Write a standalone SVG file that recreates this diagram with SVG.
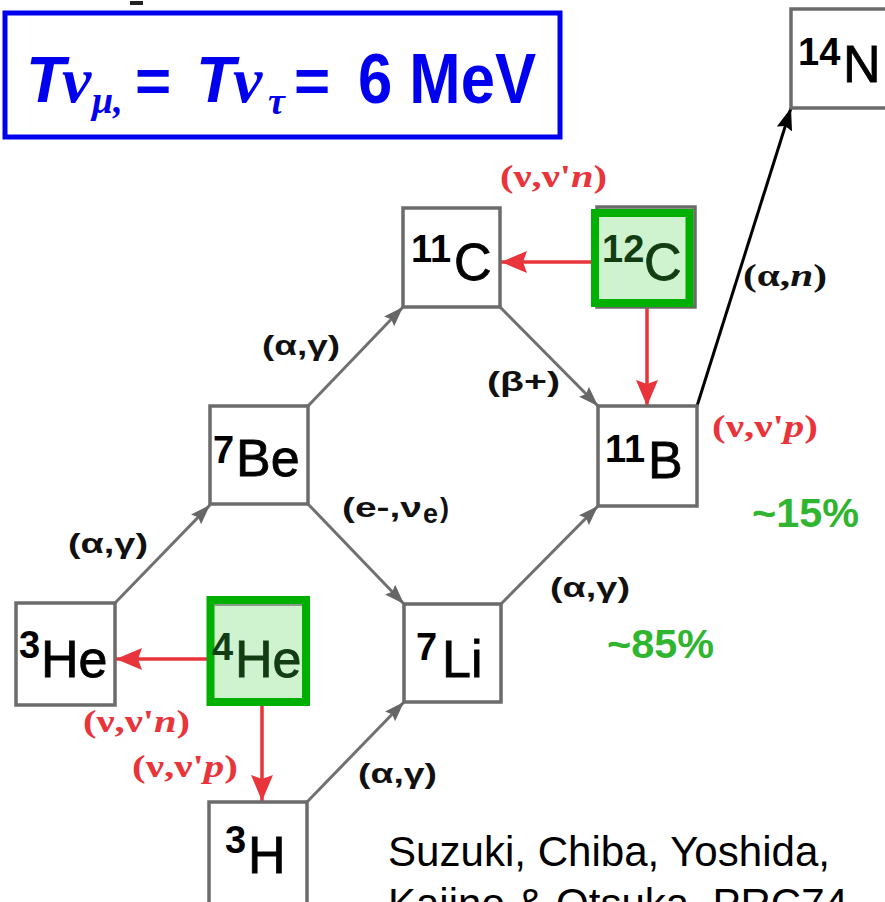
<svg xmlns="http://www.w3.org/2000/svg" width="885" height="902" viewBox="0 0 885 902">
<style>
.box{fill:#fff;stroke:#6b6b6b;stroke-width:3.5}
.gbox{fill:#cff2cf;stroke:#00b000;stroke-width:8}
.sup{font-family:"Liberation Sans",Arial,sans-serif;font-size:38px;font-weight:bold;fill:#000}
.sym{font-family:"Liberation Sans",Arial,sans-serif;font-size:52px;fill:#000;stroke:#000;stroke-width:0.8}
.dk{fill:#123d12;stroke:#123d12}
.lbl{font-family:"Liberation Sans",Arial,sans-serif;font-weight:bold;font-size:27px;fill:#111}
.red{font-family:"Liberation Serif","Times New Roman",serif;font-size:31px;font-weight:bold;fill:#e8343a}
.it{font-style:italic}
.pct{font-family:"Liberation Sans",Arial,sans-serif;font-weight:bold;font-size:40px;fill:#2fb52f}
.ttl{font-family:"Liberation Sans",Arial,sans-serif;font-weight:bold;fill:#0000ee}
.ttls{font-family:"Liberation Serif","Times New Roman",serif;font-weight:bold;font-style:italic;fill:#0000ee}
.ref{font-family:"Liberation Sans",Arial,sans-serif;font-size:42px;fill:#000}
.gl{stroke:#707070;stroke-width:3;fill:none}
.rl{stroke:#e8343a;stroke-width:3.5;fill:none}
.bl{stroke:#000;stroke-width:3;fill:none}
</style>
<defs>
<marker id="ag" viewBox="0 0 20 14" refX="20" refY="7" markerWidth="20" markerHeight="14" markerUnits="userSpaceOnUse" orient="auto"><path d="M0,0 L20,7 L0,14 L3,7 z" fill="#666"/></marker>
<marker id="ar" viewBox="0 0 26 22" refX="26" refY="11" markerWidth="26" markerHeight="22" markerUnits="userSpaceOnUse" orient="auto"><path d="M0,0 L26,11 L0,22 L4,11 z" fill="#e8343a"/></marker>
<marker id="ab" viewBox="0 0 22 16" refX="22" refY="8" markerWidth="22" markerHeight="16" markerUnits="userSpaceOnUse" orient="auto"><path d="M0,0 L22,8 L0,16 L3,8 z" fill="#000"/></marker>
</defs>
<rect x="0" y="0" width="885" height="902" fill="#fff"/>
<rect x="130" y="1" width="13" height="4" fill="#222"/>

<g id="title">
<rect x="5" y="13" width="555" height="124" fill="#fff" stroke="#0000ee" stroke-width="5"/>
<text class="ttl" x="26" y="102" font-size="64" font-style="italic">T</text>
<text class="ttls" x="62" y="102" font-size="66">ν</text>
<text class="ttls" x="92" y="113" font-size="38">μ,</text>
<text class="ttl" x="135" y="102" font-size="62">=</text>
<text class="ttl" x="196" y="102" font-size="64" font-style="italic">T</text>
<text class="ttls" x="233" y="102" font-size="66">ν</text>
<text class="ttls" x="268" y="114" font-size="38">τ</text>
<text class="ttl" x="294" y="102" font-size="62">=</text>
<text class="ttl" x="358" y="103" font-size="70" textLength="178" lengthAdjust="spacingAndGlyphs">6 MeV</text>
</g>

<g id="connectors">
<line class="gl" x1="115" y1="603" x2="210" y2="505" marker-end="url(#ag)"/>
<line class="gl" x1="308" y1="406" x2="403" y2="307" marker-end="url(#ag)"/>
<line class="gl" x1="500" y1="307" x2="598" y2="406" marker-end="url(#ag)"/>
<line class="gl" x1="308" y1="504" x2="404" y2="604" marker-end="url(#ag)"/>
<line class="gl" x1="501" y1="604" x2="598" y2="506" marker-end="url(#ag)"/>
<line class="gl" x1="307" y1="802" x2="404" y2="702" marker-end="url(#ag)"/>
<line class="bl" x1="697" y1="406" x2="791" y2="108" marker-end="url(#ab)"/>
<line class="rl" x1="591" y1="262" x2="501" y2="262" marker-end="url(#ar)"/>
<line class="rl" x1="647" y1="307" x2="647" y2="406" marker-end="url(#ar)"/>
<line class="rl" x1="207" y1="659" x2="116" y2="659" marker-end="url(#ar)"/>
<line class="rl" x1="262" y1="706" x2="262" y2="801" marker-end="url(#ar)"/>
</g>

<g id="n14N">
<rect class="box" x="791" y="9" width="100" height="99"/>
<text class="sup" x="798" y="65">14</text>
<text class="sym" x="843" y="82">N</text>
</g>
<g id="n11C">
<rect class="box" x="403" y="208" width="97" height="99"/>
<text class="sup" x="411" y="262">11</text>
<text class="sym" x="454" y="280" font-size="52">C</text>
</g>
<g id="n12C">
<rect class="box" x="597" y="207" width="98" height="100"/>
<rect class="gbox" x="595" y="213" width="94.5" height="90"/>
<text class="sup dk" x="602" y="262" style="stroke:none">12</text>
<text class="sym dk" x="644" y="280" font-size="52">C</text>
</g>
<g id="n7Be">
<rect class="box" x="210" y="406" width="98" height="98"/>
<text class="sup" x="213" y="463">7</text>
<text class="sym" x="236" y="476">Be</text>
</g>
<g id="n11B">
<rect class="box" x="598" y="406" width="99" height="100"/>
<text class="sup" x="605" y="462">11</text>
<text class="sym" x="648" y="478">B</text>
</g>
<g id="n3He">
<rect class="box" x="16" y="603" width="99" height="102"/>
<text class="sup" x="19" y="658">3</text>
<text class="sym" x="41" y="677">He</text>
</g>
<g id="n4He">
<rect class="gbox" x="210.5" y="600" width="95.5" height="102"/>
<line x1="214" y1="605" x2="302" y2="605" stroke="#8a9a8a" stroke-width="2"/>
<text class="sup dk" x="212" y="660" style="stroke:none">4</text>
<text class="sym dk" x="235" y="677">He</text>
</g>
<g id="n7Li">
<rect class="box" x="404" y="604" width="97" height="98"/>
<text class="sup" x="416" y="660">7</text>
<text class="sym" x="442" y="677" font-size="50">Li</text>
</g>
<g id="n3H">
<rect class="box" x="209" y="802" width="98" height="110"/>
<text class="sup" x="225" y="853">3</text>
<text class="sym" x="248" y="873">H</text>
</g>

<g id="labels">
<text class="red" x="500" y="187" textLength="107" lengthAdjust="spacingAndGlyphs">(ν,ν'<tspan class="it">n</tspan>)</text>
<text class="red" x="712" y="437" textLength="106" lengthAdjust="spacingAndGlyphs">(ν,ν'<tspan class="it">p</tspan>)</text>
<text class="red" x="83" y="732" textLength="107" lengthAdjust="spacingAndGlyphs">(ν,ν'<tspan class="it">n</tspan>)</text>
<text class="red" x="132" y="777" textLength="106" lengthAdjust="spacingAndGlyphs">(ν,ν'<tspan class="it">p</tspan>)</text>
<text class="red" x="743" y="286" style="fill:#111" textLength="84" lengthAdjust="spacingAndGlyphs">(α,<tspan class="it">n</tspan>)</text>
<text class="lbl" x="262" y="355" textLength="78" lengthAdjust="spacingAndGlyphs">(α,γ)</text>
<text class="lbl" x="487" y="391" textLength="73" lengthAdjust="spacingAndGlyphs">(β+)</text>
<text class="lbl" x="342" y="517" textLength="80" lengthAdjust="spacingAndGlyphs">(e-,ν</text>
<text class="lbl" x="423" y="523" font-size="22" textLength="15" lengthAdjust="spacingAndGlyphs">e</text>
<text class="lbl" x="440" y="517">)</text>
<text class="lbl" x="68" y="553" textLength="80" lengthAdjust="spacingAndGlyphs">(α,γ)</text>
<text class="lbl" x="550" y="597" textLength="80" lengthAdjust="spacingAndGlyphs">(α,γ)</text>
<text class="lbl" x="358" y="783" textLength="79" lengthAdjust="spacingAndGlyphs">(α,γ)</text>
<text class="pct" x="752" y="527" textLength="107" lengthAdjust="spacingAndGlyphs">~15%</text>
<text class="pct" x="607" y="658" textLength="107" lengthAdjust="spacingAndGlyphs">~85%</text>
</g>

<g id="citation">
<text class="ref" x="388" y="866" textLength="442" lengthAdjust="spacingAndGlyphs">Suzuki, Chiba, Yoshida,</text>
<text class="ref" x="388" y="918">Kajino &amp; Otsuka, PRC74</text>
</g>
</svg>
